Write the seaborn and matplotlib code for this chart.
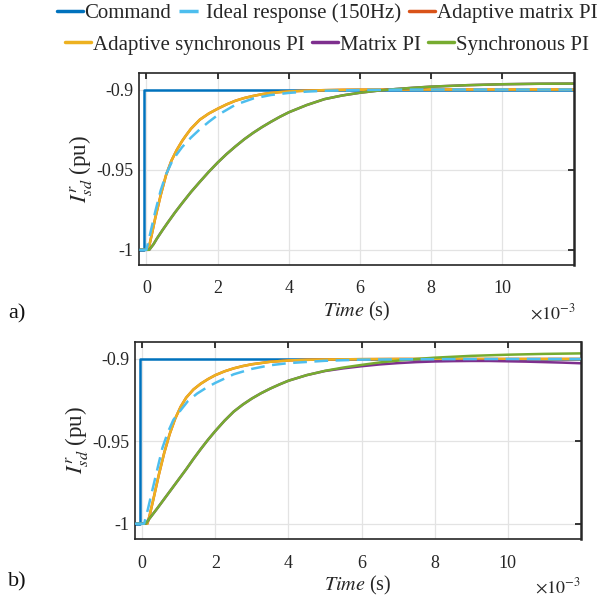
import matplotlib
matplotlib.use("Agg")
import matplotlib.pyplot as plt
import seaborn as sns
import numpy as np
import pandas as pd

# ---------------- data (time in ms, current in pu) ----------------
legend_names = ["Command", "Ideal response (150Hz)", "Adaptive matrix PI",
                "Adaptive synchronous PI", "Matrix PI", "Synchronous PI"]
colors = ["#0072BD", "#4DBEEE", "#D95319", "#EDB120", "#7E2F8E", "#77AC30"]
x_ticks = [0, 2, 4, 6, 8, 10]
x_tick_labels = ["0", "2", "4", "6", "8", "10"]
y_ticks = [-1.0, -0.95, -0.9]
y_tick_labels = ["-1", "-0.95", "-0.9"]

# panel a
cmd_t_a = [-0.2, -0.08, -0.08, 12.0]
cmd_v_a = [-1.0, -1.0, -0.9, -0.9]

ideal_t_a = [-0.2, 0.0, 0.1, 0.25, 0.4, 0.55, 0.7, 0.85, 1.0, 1.25, 1.5, 1.75, 2.0, 2.5, 3.0, 3.5,
             4.0, 4.5, 5.0, 6.0, 7.0, 8.0, 10.0, 12.0]
ideal_v_a = [-1.0, -1.0, -0.9905, -0.976, -0.963, -0.953, -0.9458, -0.9405, -0.936, -0.930, -0.9248,
             -0.9202, -0.916, -0.9095, -0.9056, -0.9034, -0.9021, -0.9013, -0.9008, -0.9003,
             -0.9001, -0.9, -0.9, -0.9]

asyn_t_a = [-0.2, 0.05, 0.1, 0.15, 0.25, 0.4, 0.55, 0.7, 0.85, 1.0, 1.1, 1.25, 1.5, 1.75, 2.0, 2.25,
            2.5, 2.75, 3.0, 3.25, 3.5, 3.75, 4.0, 4.5, 5.0, 5.5, 6.0, 7.0, 8.0, 10.0, 12.0]
asyn_v_a = [-1.0, -1.0, -0.9955, -0.9905, -0.980, -0.966, -0.9535, -0.9445, -0.9378, -0.9322, -0.929,
            -0.9245, -0.9188, -0.9150, -0.9120, -0.9093, -0.9070, -0.9053, -0.9040, -0.9029,
            -0.9021, -0.9016, -0.9012, -0.9007, -0.9004, -0.9002, -0.9001, -0.9, -0.9, -0.9, -0.9]
amat_t_a = list(asyn_t_a)
amat_v_a = list(asyn_v_a)

sync_t_a = [-0.2, 0.08, 0.2, 0.3, 0.45, 0.6, 0.8, 1.0, 1.25, 1.5, 1.75, 2.0, 2.25, 2.5, 2.75, 3.0,
            3.25, 3.5, 3.75, 4.0, 4.5, 5.0, 5.5, 6.0, 6.5, 7.0, 7.5, 8.0, 9.0, 10.0, 11.0, 12.0]
sync_v_a = [-1.0, -1.0, -0.9965, -0.9928, -0.9878, -0.983, -0.9768, -0.9710, -0.9640, -0.9576,
            -0.9514, -0.9456, -0.9403, -0.9355, -0.9310, -0.9270, -0.9234, -0.9201, -0.9170,
            -0.9142, -0.9097, -0.9060, -0.9037, -0.9020, -0.9007, -0.8997, -0.8989, -0.8982,
            -0.8973, -0.8967, -0.8964, -0.8963]
mat_t_a = list(sync_t_a)
mat_v_a = list(sync_v_a)

# panel b
cmd_t_b = [-0.2, -0.05, -0.05, 12.0]
cmd_v_b = [-1.0, -1.0, -0.9, -0.9]

ideal_t_b = [-0.2, 0.05, 0.15, 0.25, 0.4, 0.55, 0.7, 0.85, 1.0, 1.25, 1.5, 1.75, 2.0, 2.5, 3.0, 3.5,
             4.0, 5.0, 6.0, 7.0, 8.0, 10.0, 12.0]
ideal_v_b = [-1.0, -1.0, -0.9915, -0.982, -0.968, -0.954, -0.9445, -0.937, -0.9325, -0.9255, -0.921,
             -0.9175, -0.9145, -0.9093, -0.906, -0.9038, -0.9025, -0.9011, -0.9004, -0.9002,
             -0.9001, -0.9, -0.9]

asyn_t_b = [-0.2, 0.14, 0.2, 0.3, 0.45, 0.6, 0.75, 0.9, 1.05, 1.2, 1.4, 1.6, 1.8, 2.0, 2.25, 2.5,
            2.75, 3.0, 3.5, 4.0, 4.5, 5.0, 6.0, 7.0, 8.0, 10.0, 12.0]
asyn_v_b = [-1.0, -1.0, -0.995, -0.9855, -0.9705, -0.957, -0.9455, -0.9362, -0.929, -0.9235,
            -0.9185, -0.9150, -0.9122, -0.9098, -0.9075, -0.9057, -0.9043, -0.9032, -0.9017,
            -0.9009, -0.9005, -0.9003, -0.9001, -0.9, -0.9, -0.9, -0.9]
amat_t_b = list(asyn_t_b)
amat_v_b = list(asyn_v_b)

sync_t_b = [-0.2, 0.09, 0.2, 0.4, 0.6, 0.8, 1.0, 1.2, 1.4, 1.6, 1.8, 2.0, 2.25, 2.5, 2.75, 3.0, 3.25,
            3.5, 3.75, 4.0, 4.5, 5.0, 5.5, 6.0, 6.5, 7.0, 7.5, 8.0, 9.0, 10.0, 11.0, 12.0]
sync_v_b = [-1.0, -1.0, -0.9968, -0.991, -0.985, -0.979, -0.973, -0.967, -0.9607, -0.9547, -0.949,
            -0.9437, -0.9375, -0.932, -0.9277, -0.924, -0.9208, -0.918, -0.9155, -0.9132, -0.9098,
            -0.9072, -0.9052, -0.9036, -0.9021, -0.9010, -0.9000, -0.8992, -0.8981, -0.8974,
            -0.8969, -0.8966]
mat_t_b = [-0.2, 0.09, 0.2, 0.4, 0.6, 0.8, 1.0, 1.2, 1.4, 1.6, 1.8, 2.0, 2.25, 2.5, 2.75, 3.0, 3.25,
           3.5, 3.75, 4.0, 4.5, 5.0, 5.5, 6.0, 6.5, 7.0, 7.5, 8.0, 8.5, 9.0, 9.5, 10.0, 10.5, 11.0,
           11.5, 12.0]
mat_v_b = [-1.0, -1.0, -0.9968, -0.991, -0.985, -0.979, -0.973, -0.967, -0.9607, -0.9547, -0.949,
           -0.9437, -0.9375, -0.932, -0.9277, -0.924, -0.9208, -0.918, -0.9155, -0.9132, -0.9098,
           -0.9073, -0.9057, -0.9044, -0.9033, -0.9025, -0.9019, -0.9015, -0.9013, -0.9012,
           -0.9012, -0.9014, -0.9016, -0.9019, -0.9022, -0.9026]

# ---------------- style ----------------
sns.set_theme(style="white")
plt.rcParams["font.family"] = ["Liberation Serif", "DejaVu Serif"]
plt.rcParams["mathtext.fontset"] = "stix"
plt.rcParams["axes.unicode_minus"] = False

W, H = 597, 601
fig = plt.figure(figsize=(W / 100, H / 100), dpi=100)
ax_a = fig.add_axes([139.3 / W, 1 - 265 / H, 434.4 / W, 192.3 / H])
ax_b = fig.add_axes([135 / W, 1 - 539.3 / H, 445.7 / W, 197.6 / H])

panels = [
    (ax_a, [(cmd_t_a, cmd_v_a), (ideal_t_a, ideal_v_a), (amat_t_a, amat_v_a),
            (asyn_t_a, asyn_v_a), (mat_t_a, mat_v_a), (sync_t_a, sync_v_a)]),
    (ax_b, [(cmd_t_b, cmd_v_b), (ideal_t_b, ideal_v_b), (amat_t_b, amat_v_b),
            (asyn_t_b, asyn_v_b), (mat_t_b, mat_v_b), (sync_t_b, sync_v_b)]),
]
zorders = [2.0, 2.6, 2.1, 2.2, 2.3, 2.4]
styles = ["-", (0, (5.5, 3)), "-", "-", "-", "-"]

for ax, series in panels:
    for i, (t, v) in enumerate(series):
        df = pd.DataFrame({"t": t, "v": v})
        sns.lineplot(data=df, x="t", y="v", ax=ax, color=colors[i], linewidth=1.8,
                     linestyle=styles[i], label=legend_names[i], legend=False,
                     sort=False, estimator=None, zorder=zorders[i])
    ax.set_xlim(-0.2, 12.0)
    ax.set_ylim(-1.0095, -0.8895)
    ax.set_xticks(x_ticks)
    ax.set_xticklabels(x_tick_labels)
    ax.set_yticks(y_ticks)
    ax.set_yticklabels(y_tick_labels)
    ax.grid(True, color="#e3e3e3", linewidth=0.9)
    ax.set_axisbelow(True)
    for s in ax.spines.values():
        s.set_visible(True)
        s.set_color("#262626")
        s.set_linewidth(1.2)
    ax.spines["right"].set_linewidth(1.8)
    ax.tick_params(axis="both", which="major", direction="in", top=True, right=True,
                   length=4, width=1.3, color="#262626", labelsize=13, labelcolor="#262626")
    ax.tick_params(axis="x", pad=11)
    ax.tick_params(axis="y", pad=4)
    ax.set_xlabel(r"$Time$ (s)", fontsize=14.5, color="#262626", labelpad=2)
    ax.set_ylabel(r"$I^{r}_{sd}$ (pu)", fontsize=16.5, color="#262626", labelpad=2)

ax_a.text(1.005, -0.2, r"$\times10^{-3}$", transform=ax_a.transAxes, ha="right", va="top",
          fontsize=13, color="#262626")
ax_b.text(1.0, -0.19, r"$\times10^{-3}$", transform=ax_b.transAxes, ha="right", va="top",
          fontsize=13, color="#262626")
fig.text(8 / W, 1 - 314 / H, "a)", fontsize=16, ha="left", va="center", color="#111111")
fig.text(8 / W, 1 - 582 / H, "b)", fontsize=16, ha="left", va="center", color="#111111")

handles = ax_a.get_lines()[:6]
leg_kw = dict(loc="center", frameon=False, handlelength=1.25, handletextpad=0.08,
              columnspacing=0.35, fontsize=15, borderpad=0, borderaxespad=0, ncol=3)
leg1 = fig.legend(handles[:3], legend_names[:3], bbox_to_anchor=(327 / W, 1 - 13 / H), **leg_kw)
leg2 = fig.legend(handles[3:], legend_names[3:], bbox_to_anchor=(327 / W, 1 - 45 / H), **leg_kw)
for leg in (leg1, leg2):
    for line in leg.get_lines():
        line.set_linewidth(2.5)

fig.savefig("out.png", dpi=100)
